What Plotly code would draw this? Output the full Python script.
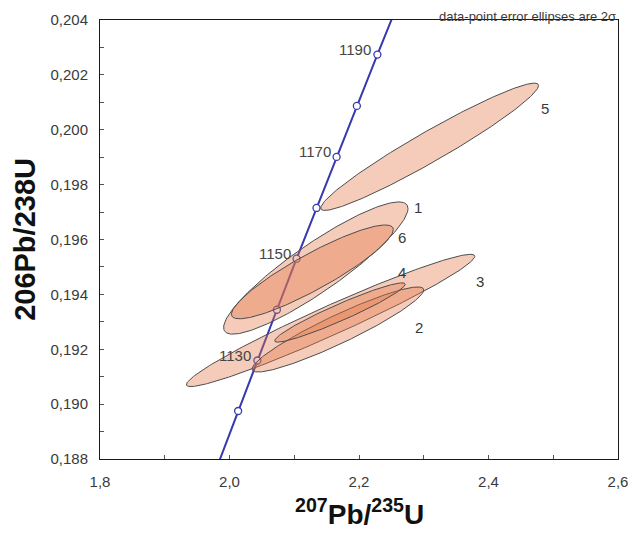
import numpy as np
import plotly.graph_objects as go

# Wetherill concordia reference points, every 10 Ma
conc_age = [1110, 1120, 1130, 1140, 1150, 1160, 1170, 1180, 1190, 1200]
conc_pb207_u235 = [1.9838, 2.0133, 2.0431, 2.0732, 2.1036, 2.1344, 2.1654, 2.1967, 2.2284, 2.2603]
conc_pb206_u238 = [0.18790, 0.18975, 0.19159, 0.19344, 0.19530, 0.19715, 0.19901, 0.20087, 0.20274, 0.20460]
conc_marked = [1120, 1130, 1140, 1150, 1160, 1170, 1180, 1190]
conc_labelled = [1130, 1150, 1170, 1190]

# Spot analyses: ratio centres, 2-sigma errors and error correlation
spot = ["5", "1", "6", "3", "2", "4"]
pb207_u235 = [2.3091, 2.1333, 2.1280, 2.1561, 2.1674, 2.1705]
err_207 = [0.1682, 0.1424, 0.1250, 0.2227, 0.1326, 0.1008]
pb206_u238 = [0.19938, 0.19496, 0.19482, 0.19305, 0.19272, 0.19334]
err_206 = [0.00232, 0.00241, 0.00171, 0.00241, 0.00155, 0.00108]
rho = [0.962, 0.90, 0.90, 0.970, 0.93, 0.952]

x_range = [1.8, 2.6]
y_range = [0.188, 0.204]

# pixel offsets of the spot numbers from each ellipse's right-hand tip
label_shift = {"5": (6, -23), "1": (10, 1), "6": (9, -8),
               "3": (5, -25), "4": (-3, 12), "2": (-5, -38)}

LINE_BLUE = "#3838b0"
TEXT = "#3a3a3a"
FONT = "Liberation Sans, Arial"

fig = go.Figure()

# concordia curve with age markers
fig.add_trace(go.Scatter(
    x=conc_pb207_u235, y=conc_pb206_u238, mode="lines",
    line=dict(color=LINE_BLUE, width=2), hoverinfo="skip", showlegend=False))

idx = [conc_age.index(a) for a in conc_marked]
fig.add_trace(go.Scatter(
    x=[conc_pb207_u235[i] for i in idx],
    y=[conc_pb206_u238[i] for i in idx],
    mode="markers",
    marker=dict(symbol="circle", size=7, color="white",
                line=dict(color=LINE_BLUE, width=1.3)),
    hoverinfo="skip", showlegend=False))

for a in conc_labelled:
    i = conc_age.index(a)
    fig.add_annotation(x=conc_pb207_u235[i], y=conc_pb206_u238[i], text=str(a),
                       showarrow=False, xanchor="right", yanchor="middle",
                       xshift=-4, yshift=5,
                       font=dict(family=FONT, size=15, color="#454545"))

# 2-sigma error ellipses
t = np.linspace(0, 2 * np.pi, 241)
for name, cx, sx, cy, sy, r in zip(spot, pb207_u235, err_207, pb206_u238, err_206, rho):
    ex = cx + sx * np.cos(t)
    ey = cy + sy * (r * np.cos(t) + np.sqrt(1 - r * r) * np.sin(t))
    fig.add_trace(go.Scatter(
        x=ex, y=ey, mode="lines", fill="toself",
        fillcolor="rgba(228,118,72,0.38)",
        line=dict(color="#4d4d4d", width=1),
        hoverinfo="skip", showlegend=False))
    dx, dy = label_shift[name]
    fig.add_annotation(x=cx + sx, y=cy + r * sy, text=name, showarrow=False,
                       xanchor="center", yanchor="middle", xshift=dx, yshift=dy,
                       font=dict(family=FONT, size=15, color=TEXT))

axis_common = dict(
    showgrid=False, zeroline=False, showline=True, linecolor="#1a1a1a", linewidth=1,
    mirror=True, ticks="inside", ticklen=4, tickcolor="#555555",
    tickfont=dict(family=FONT, size=15, color=TEXT),
)

fig.update_xaxes(range=x_range, dtick=0.2, tick0=1.8, tickformat=".1f",
                 minor=dict(dtick=0.1, ticks="inside", ticklen=4, tickcolor="#555555"),
                 ticklabelstandoff=9, **axis_common)
fig.update_yaxes(range=y_range, dtick=0.002, tick0=0.188, tickformat=".3f",
                 minor=dict(dtick=0.001, ticks="inside", ticklen=4, tickcolor="#555555"),
                 ticklabelstandoff=8, **axis_common)

fig.add_annotation(xref="paper", yref="paper", x=1, y=1, xanchor="right", yanchor="bottom",
                   yshift=-6, showarrow=False,
                   text="data-point error ellipses are 2\u03c3",
                   font=dict(family=FONT, size=13, color=TEXT))
fig.add_annotation(xref="paper", yref="paper", x=-0.146, y=0.5, textangle=-90,
                   xanchor="center", yanchor="middle", showarrow=False,
                   text="<b>206Pb/238U</b>",
                   font=dict(family=FONT, size=29, color="#111111"))
fig.add_annotation(xref="paper", yref="paper", x=0.5, y=-0.166,
                   xanchor="center", yanchor="bottom", showarrow=False,
                   text="<b><sup>207</sup>Pb/<sup>235</sup>U</b>",
                   font=dict(family=FONT, size=28, color="#111111"))

fig.update_layout(
    width=639, height=533, separators=",.",
    margin=dict(l=100, r=11, t=20, b=74),
    paper_bgcolor="white", plot_bgcolor="white",
)

fig.write_html("out.html")
